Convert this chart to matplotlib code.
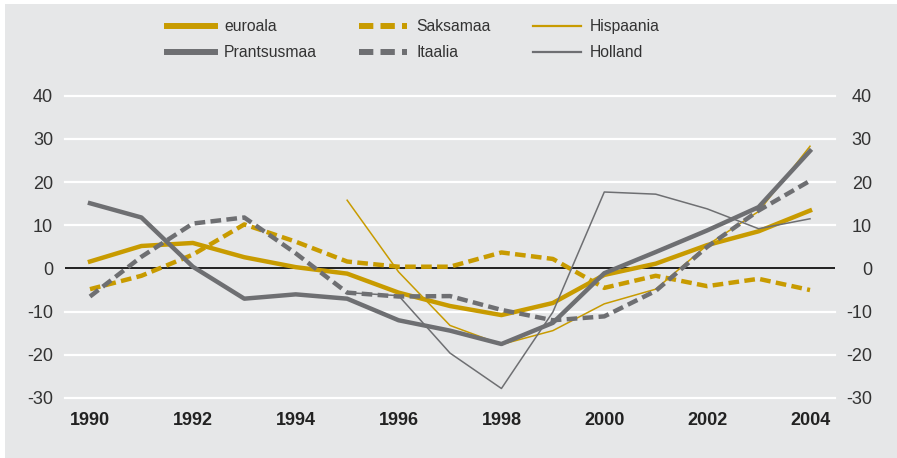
import numpy as np
import matplotlib
matplotlib.use("Agg")
import matplotlib.pyplot as plt

plt.rcParams['font.family'] = ['Liberation Sans', 'DejaVu Sans']

years = list(range(1990, 2005))
nan = np.nan
euroala = [1.6, 5.2, 5.9, 2.6, 0.3, -1.2, -5.6, -8.7, -10.8, -8.0, -1.5, 1.1, 5.4, 8.6, 13.4]
prantsusmaa = [15.1, 11.8, 0.4, -7.0, -6.0, -7.0, -12.0, -14.4, -17.5, -12.6, -1.1, 3.8, 8.8, 14.2, 27.2]
saksamaa = [-4.8, -1.7, 3.2, 10.2, 6.2, 1.6, 0.4, 0.4, 3.7, 2.2, -4.5, -1.7, -4.1, -2.4, -5.0]
itaalia = [-6.5, 2.7, 10.4, 11.8, 3.5, -5.6, -6.5, -6.4, -9.6, -12.0, -11.1, -5.2, 5.0, 13.4, 20.3]
hispaania = [nan, nan, nan, nan, nan, 15.8, -0.8, -13.2, -17.6, -14.4, -8.2, -4.8, 5.4, 13.2, 28.3]
holland = [nan, nan, nan, nan, nan, -5.6, -6.3, -19.6, -27.8, -10.1, 17.7, 17.2, 13.8, 9.2, 11.5]

xticks = [1990, 1992, 1994, 1996, 1998, 2000, 2002, 2004]
yticks = [-30, -20, -10, 0, 10, 20, 30, 40]

GOLD = '#c89b00'
GRAY = '#6e6f72'
BG = '#e6e7e8'

fig = plt.figure(figsize=(8.97, 4.58), dpi=100, facecolor='white')
# gray panel as background axes
bg = fig.add_axes([5/897, 0, 1 - 5/897, 1 - 4/458], zorder=-10)
bg.set_facecolor(BG)
bg.set_xticks([]); bg.set_yticks([])
for s in bg.spines.values():
    s.set_visible(False)

ax = fig.add_axes([65/897, 1 - 398/458, 770/897, (398 - 95.7)/458])
ax.set_facecolor('none')
ax.set_xlim(1989.514, 2004.486)
ax.set_ylim(-30, 40)
for s in ax.spines.values():
    s.set_visible(False)

for yv in yticks:
    if yv == 0:
        ax.axhline(yv, color='#111111', lw=1.3, zorder=2)
    else:
        ax.axhline(yv, color='white', lw=1.6, zorder=1, clip_on=False)

lw_thick = 3.2
lw_thin = 1.1
dash = (2.4, 1.2)

h_eu, = ax.plot(years, euroala, color=GOLD, lw=lw_thick, zorder=3)
h_de, = ax.plot(years, saksamaa, color=GOLD, lw=lw_thick, zorder=3.5, dashes=dash,
                dash_capstyle='butt')
h_es, = ax.plot(years, hispaania, color=GOLD, lw=lw_thin, zorder=4)
h_nl, = ax.plot(years, holland, color=GRAY, lw=lw_thin, zorder=4)
h_it, = ax.plot(years, itaalia, color=GRAY, lw=lw_thick, zorder=5, dashes=dash,
                dash_capstyle='butt')
h_fr, = ax.plot(years, prantsusmaa, color=GRAY, lw=lw_thick, zorder=6)

ax.set_xticks(xticks)
ax.set_xticklabels([str(x) for x in xticks], fontsize=13, fontweight='bold', color='#222222')
ax.set_yticks(yticks)
ax.set_yticklabels([str(y) for y in yticks], fontsize=13, color='#333333')
ax.tick_params(axis='both', length=0)
ax.tick_params(axis='x', pad=10)
ax.tick_params(axis='y', pad=8.6)

ax2 = ax.twinx()
ax2.set_ylim(-30, 40)
for s in ax2.spines.values():
    s.set_visible(False)
ax2.set_yticks(yticks)
ax2.set_yticklabels([str(y) for y in yticks], fontsize=13, color='#333333')
ax2.tick_params(axis='y', length=0, pad=26.6)
for lab in ax2.get_yticklabels():
    lab.set_horizontalalignment('right')

handles = [h_eu, h_fr, h_de, h_it, h_es, h_nl]
labels = ['euroala', 'Prantsusmaa', 'Saksamaa', 'Itaalia', 'Hispaania', 'Holland']
leg = fig.legend(handles, labels, ncol=3, loc='upper left',
                 bbox_to_anchor=(167/897, 1 - 19/458), frameon=False,
                 fontsize=11.3, handlelength=3.06, handletextpad=0.57,
                 columnspacing=2.7, labelspacing=0.72, borderpad=0, borderaxespad=0)
for t in leg.get_texts():
    t.set_color('#333333')
for lh in leg.legend_handles:
    if lh.get_linewidth() > 2:
        lh.set_linewidth(4.3)
    else:
        lh.set_linewidth(1.6)

fig.savefig('out.png', dpi=100, facecolor='white')
